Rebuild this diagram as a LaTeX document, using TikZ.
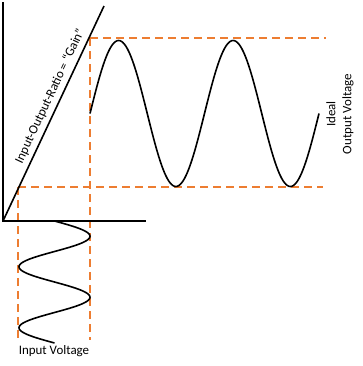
\documentclass[tikz,border=0pt]{standalone}
\usepackage{fontspec}
\setmainfont{Carlito}
\usetikzlibrary{calc}

\begin{document}
\begin{tikzpicture}[x=1bp, y=-1bp, font=\fontsize{13}{16}\selectfont, line width=1.6bp,
  axis/.style={draw=black, line width=1.6bp},
  wave/.style={draw=black, line width=1.6bp},
  guide/.style={draw=guideorange, line width=1.4bp, dash pattern=on 8bp off 5bp},
  lab/.style={inner sep=1pt, text=black},
]
\definecolor{guideorange}{HTML}{ED7D31}
\useasboundingbox (0,0) rectangle (363,366);

% ---------------- transfer line and axes ----------------
\coordinate (O)    at (3,221);
\coordinate (ytop) at (3,2);
\coordinate (xend) at (146,221);
\coordinate (gtop) at (104,6);
% levels where the gain line meets the input swing
\coordinate (lo)    at (18,187);
\coordinate (hi)    at (90,38);
\coordinate (loEnd) at (18,340);
\coordinate (hiEnd) at (90,340);
\coordinate (loR)   at (323,187);
\coordinate (hiR)   at (326,38);

% orange guides
\draw[guide] (lo) -- (loEnd);
\draw[guide] (hi) -- (hiEnd);
\draw[guide] (hi) -- (hiR);
\draw[guide] (lo) -- (loR);

\draw[axis] (ytop) -- (O) -- (xend);
\draw[axis] (O) -- node[lab, sloped, above=3bp, pos=0.56] (gainlab) {Input-Output-Ratio = “Gain”} (gtop);

% ---------------- input and output signals ----------------
\draw[wave] plot[domain=0:122, samples=121, smooth] ({54.5+35.5*sin(\x/61*360)}, {221+\x});
\draw[wave] plot[domain=0:229, samples=161, smooth] ({90+\x}, {113.5-73*sin(\x/114.5*360)});

\node[lab] (inlab) at (54,351) {Input Voltage};
\node[lab, rotate=90, align=center] (outlab) at (340,114) {Ideal\\Output Voltage};
\end{tikzpicture}
\end{document}
